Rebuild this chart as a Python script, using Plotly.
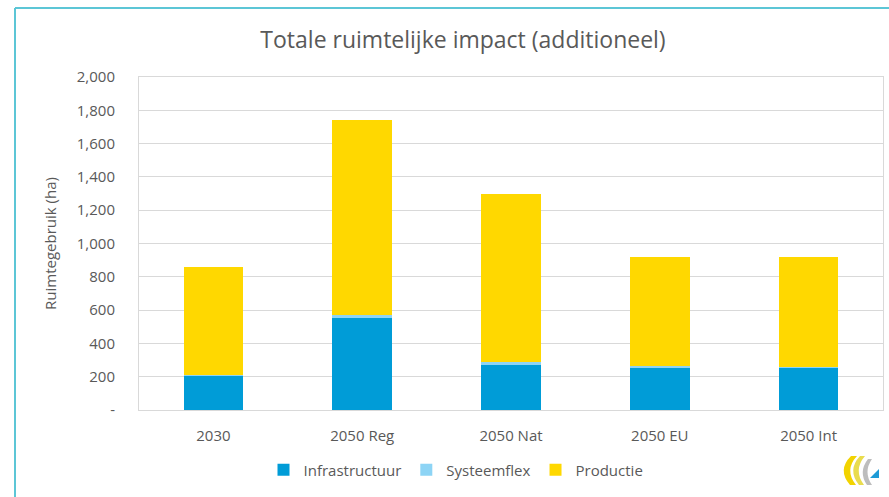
import plotly.graph_objects as go

# Scenario categories and stacked land-use components (ha)
categories = ["2030", "2050 Reg", "2050 Nat", "2050 EU", "2050 Int"]
infrastructuur = [210, 550, 270, 250, 256]
systeemflex = [3, 20, 20, 12, 4]
productie = [647, 1170, 1010, 658, 660]

series_names = ["Infrastructuur", "Systeemflex", "Productie"]
series_colors = ["#009CD7", "#8DD4F5", "#FFD800"]

y_tickvals = [0, 200, 400, 600, 800, 1000, 1200, 1400, 1600, 1800, 2000]
y_ticktext = ["-", "200", "400", "600", "800", "1,000", "1,200", "1,400", "1,600", "1,800", "2,000"]

W, H = 889, 497
ML, MR, MT, MB = 139, 6, 77, 87
PW, PH = W - ML - MR, H - MT - MB


def px_x(x):
    return (x - ML) / PW


def px_y(y):
    return (H - MB - y) / PH


FONT = "'Open Sans', 'Noto Sans', sans-serif"
GREY = "#595959"

fig = go.Figure()
for name, vals, col in zip(series_names, [infrastructuur, systeemflex, productie], series_colors):
    fig.add_trace(go.Bar(
        x=categories, y=vals, name=name,
        marker=dict(color=col, line=dict(width=0)),
        hoverinfo="x+y+name",
    ))

shapes = [
    # teal frame lines around the slide panel
    dict(type="line", xref="paper", yref="paper",
         x0=px_x(15), x1=px_x(889), y0=px_y(8), y1=px_y(8),
         line=dict(color="#5CC6D6", width=2)),
    dict(type="line", xref="paper", yref="paper",
         x0=px_x(15), x1=px_x(15), y0=px_y(8), y1=px_y(497),
         line=dict(color="#5CC6D6", width=2)),
]

# small logo mark in the lower right corner
lx, ly = 840, 456
def pt(dx, dy):
    return f"{px_x(lx + dx):.5f},{px_y(ly + dy):.5f}"

shapes += [
    dict(type="path", xref="paper", yref="paper",
         path=f"M{pt(11,0)} Q{pt(-3,14)} {pt(10,29)} L{pt(16,29)} Q{pt(4,14)} {pt(17,0)} Z",
         fillcolor="#F2D300", line=dict(width=0)),
    dict(type="path", xref="paper", yref="paper",
         path=f"M{pt(20,0)} Q{pt(7,14)} {pt(19,29)} L{pt(24,29)} Q{pt(13,14)} {pt(25,0)} Z",
         fillcolor="#E9DC4E", line=dict(width=0)),
    dict(type="path", xref="paper", yref="paper",
         path=f"M{pt(28,3)} Q{pt(18,16)} {pt(27,29)} L{pt(32,29)} Q{pt(23,16)} {pt(32,3)} Z",
         fillcolor="#BDBDBD", line=dict(width=0)),
    dict(type="path", xref="paper", yref="paper",
         path=f"M{pt(30,22)} L{pt(39,13)} L{pt(39,22)} Z",
         fillcolor="#1E9BD7", line=dict(width=0)),
]

fig.update_layout(
    width=W, height=H,
    margin=dict(l=ML, r=MR, t=MT, b=MB),
    paper_bgcolor="white", plot_bgcolor="white",
    barmode="stack", bargap=0.6,
    title=dict(text="Totale ruimtelijke impact (additioneel)",
               x=463 / W, xanchor="center", y=1 - 40 / H, yanchor="middle",
               font=dict(family=FONT, size=23, color=GREY)),
    font=dict(family=FONT, size=15, color=GREY),
    xaxis=dict(showgrid=False, showline=True, linecolor="#D9D9D9", linewidth=1,
               mirror=True, ticks="", ticklabelstandoff=12,
               tickfont=dict(size=15, color=GREY)),
    yaxis=dict(range=[0, 2000], tickvals=y_tickvals, ticktext=y_ticktext,
               showgrid=True, gridcolor="#D9D9D9", gridwidth=1,
               showline=True, linecolor="#D9D9D9", linewidth=1, mirror=True,
               zeroline=False, ticks="", ticklen=0, ticklabelstandoff=20,
               tickfont=dict(size=15, color=GREY),
               title=dict(text="Ruimtegebruik (ha)", standoff=16,
                          font=dict(size=15, color=GREY))),
    legend=dict(orientation="h", x=px_x(456), xanchor="center",
                y=px_y(470), yanchor="middle",
                font=dict(size=15, color=GREY), traceorder="normal",
                itemwidth=30),
    shapes=shapes,
    showlegend=True,
)

fig.write_html("out.html")
